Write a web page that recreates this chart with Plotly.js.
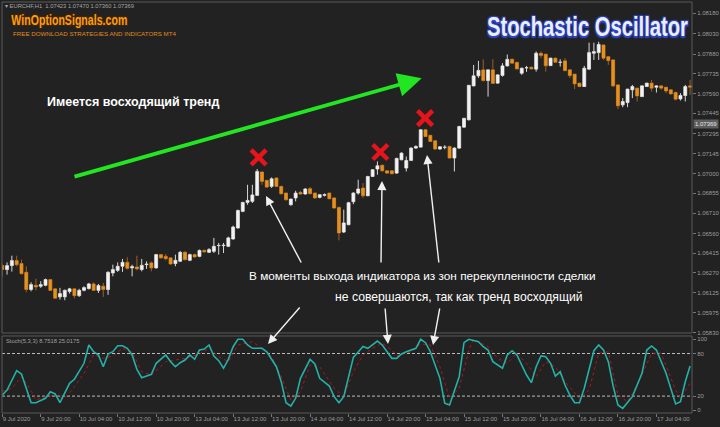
<!DOCTYPE html>
<html><head><meta charset="utf-8">
<script src="https://cdn.plot.ly/plotly-3.0.1.min.js"></script>
<style>html,body{margin:0;padding:0;background:#222222;} #chart{width:720px;height:427px;}</style>
</head><body><div id="chart"></div>
<script>
// ---- hourly EURCHF candles, bar index 0 = 9 Jul 2020 12:00 ----
const barOpen = [1.06323,1.06294,1.06323,1.06360,1.06338,1.06274,1.06147,1.06178,1.06171,1.06178,
1.06220,1.06152,1.06093,1.06093,1.06132,1.06152,1.06102,1.06141,1.06154,1.06188,
1.06141,1.06171,1.06147,1.06269,1.06288,1.06318,1.06347,1.06306,1.06313,1.06294,
1.06330,1.06343,1.06306,1.06404,1.06391,1.06380,1.06338,1.06355,1.06421,1.06362,
1.06404,1.06391,1.06435,1.06421,1.06428,1.06470,1.06470,1.06465,1.06519,1.06600,
1.06722,1.06788,1.06796,1.06840,1.07012,1.06950,1.06906,1.06968,1.06906,1.06857,
1.06771,1.06821,1.06862,1.06850,1.06889,1.06857,1.06825,1.06840,1.06857,1.06821,
1.06751,1.06570,1.06624,1.06793,1.06857,1.06894,1.06837,1.06979,1.07034,1.07062,
1.07021,1.07021,1.07004,1.07102,1.07041,1.07097,1.07188,1.07195,1.07323,1.07282,
1.07242,1.07181,1.07194,1.07200,1.07115,1.07188,1.07342,1.07396,1.07646,1.07720,
1.07764,1.07685,1.07764,1.07666,1.07723,1.07793,1.07842,1.07819,1.07739,1.07778,
1.07783,1.07769,1.07886,1.07879,1.07795,1.07850,1.07819,1.07830,1.07764,1.07732,
1.07666,1.07641,1.07769,1.07886,1.07891,1.07947,1.07861,1.07837,1.07653,1.07506,
1.07523,1.07617,1.07629,1.07567,1.07641,1.07666,1.07636,1.07646,1.07636,1.07617,
1.07597,1.07550,1.07575,1.07646];
const barHigh = [1.06338,1.06347,1.06396,1.06396,1.06367,1.06318,1.06200,1.06227,1.06208,1.06227,
1.06224,1.06159,1.06159,1.06147,1.06159,1.06159,1.06152,1.06171,1.06196,1.06200,
1.06188,1.06196,1.06281,1.06330,1.06347,1.06372,1.06384,1.06330,1.06396,1.06372,
1.06354,1.06354,1.06409,1.06406,1.06409,1.06384,1.06404,1.06430,1.06430,1.06411,
1.06411,1.06441,1.06441,1.06452,1.06527,1.06490,1.06490,1.06536,1.06617,1.06735,
1.06793,1.06918,1.06918,1.07034,1.07016,1.06955,1.06972,1.06970,1.06911,1.06859,
1.06815,1.06874,1.06874,1.06893,1.06901,1.06859,1.06848,1.06854,1.06859,1.06823,
1.06759,1.06735,1.06793,1.06863,1.06955,1.06931,1.06984,1.07032,1.07090,1.07065,
1.07025,1.07025,1.07117,1.07157,1.07126,1.07194,1.07209,1.07326,1.07326,1.07286,
1.07245,1.07201,1.07209,1.07205,1.07194,1.07352,1.07411,1.07653,1.07800,1.07830,
1.07841,1.07767,1.07842,1.07730,1.07813,1.07877,1.07846,1.07822,1.07780,1.07793,
1.07787,1.07899,1.07899,1.07881,1.07853,1.07853,1.07842,1.07850,1.07767,1.07734,
1.07668,1.07793,1.07964,1.07964,1.07971,1.07951,1.07865,1.07841,1.07657,1.07556,
1.07625,1.07653,1.07631,1.07650,1.07669,1.07690,1.07650,1.07653,1.07639,1.07620,
1.07604,1.07592,1.07653,1.07690];
const barLow = [1.06242,1.06257,1.06279,1.06318,1.06257,1.06127,1.06134,1.06141,1.06159,1.06171,
1.06137,1.06078,1.06073,1.06068,1.06117,1.06083,1.06093,1.06134,1.06147,1.06137,
1.06122,1.06093,1.06108,1.06244,1.06277,1.06277,1.06294,1.06244,1.06288,1.06281,
1.06299,1.06281,1.06301,1.06374,1.06362,1.06330,1.06318,1.06349,1.06360,1.06356,
1.06382,1.06385,1.06420,1.06415,1.06416,1.06404,1.06416,1.06459,1.06514,1.06595,
1.06716,1.06771,1.06784,1.06837,1.06918,1.06896,1.06894,1.06900,1.06845,1.06801,
1.06764,1.06796,1.06845,1.06845,1.06850,1.06815,1.06819,1.06832,1.06812,1.06742,
1.06509,1.06563,1.06620,1.06775,1.06845,1.06821,1.06834,1.06977,1.06992,1.07014,
1.06999,1.06996,1.06999,1.07098,1.07016,1.07095,1.07183,1.07194,1.07271,1.07234,
1.07176,1.07176,1.07179,1.07110,1.07016,1.07183,1.07337,1.07392,1.07642,1.07705,
1.07678,1.07567,1.07661,1.07661,1.07714,1.07789,1.07808,1.07767,1.07727,1.07749,
1.07767,1.07751,1.07850,1.07751,1.07793,1.07815,1.07788,1.07756,1.07703,1.07622,
1.07636,1.07639,1.07764,1.07837,1.07837,1.07837,1.07800,1.07636,1.07475,1.07489,
1.07489,1.07556,1.07531,1.07565,1.07639,1.07604,1.07597,1.07617,1.07592,1.07583,
1.07538,1.07538,1.07531,1.07580];
const barClose = [1.06294,1.06323,1.06360,1.06330,1.06264,1.06147,1.06183,1.06166,1.06183,1.06220,
1.06141,1.06083,1.06117,1.06141,1.06152,1.06102,1.06141,1.06161,1.06188,1.06141,
1.06176,1.06147,1.06274,1.06294,1.06318,1.06347,1.06303,1.06316,1.06299,1.06325,
1.06335,1.06306,1.06404,1.06380,1.06374,1.06335,1.06362,1.06421,1.06367,1.06404,
1.06387,1.06435,1.06424,1.06441,1.06465,1.06472,1.06474,1.06527,1.06607,1.06729,
1.06788,1.06803,1.06843,1.07016,1.06943,1.06901,1.06962,1.06906,1.06852,1.06808,
1.06813,1.06857,1.06850,1.06887,1.06852,1.06821,1.06845,1.06846,1.06815,1.06747,
1.06563,1.06637,1.06786,1.06857,1.06887,1.06837,1.06979,1.07029,1.07058,1.07021,
1.07004,1.06999,1.07112,1.07151,1.07097,1.07188,1.07200,1.07323,1.07273,1.07237,
1.07181,1.07198,1.07196,1.07115,1.07188,1.07347,1.07407,1.07650,1.07720,1.07760,
1.07685,1.07764,1.07664,1.07727,1.07793,1.07841,1.07813,1.07771,1.07776,1.07780,
1.07771,1.07886,1.07870,1.07794,1.07850,1.07820,1.07821,1.07758,1.07722,1.07661,
1.07641,1.07776,1.07891,1.07898,1.07951,1.07850,1.07832,1.07646,1.07499,1.07531,
1.07622,1.07641,1.07572,1.07646,1.07666,1.07629,1.07646,1.07629,1.07609,1.07587,
1.07548,1.07575,1.07641,1.07636];

// ---- time axis labels (bar index -> label) ----
const dateTickBars = [0,8,16,24,32,40,48,56,64,72,80,88,96,104,112,120,128,136];
const dateTickLabels = ['9 Jul 2020','9 Jul 20:00','10 Jul 04:00','10 Jul 12:00','10 Jul 20:00','13 Jul 04:00',
 '13 Jul 12:00','13 Jul 20:00','14 Jul 04:00','14 Jul 12:00','14 Jul 20:00','15 Jul 04:00','15 Jul 12:00',
 '15 Jul 20:00','16 Jul 04:00','16 Jul 12:00','16 Jul 20:00','17 Jul 04:00'];

// ---- price scale labels ----
const priceTicks = [1.08180,1.08030,1.07880,1.07735,1.07590,1.07445,1.07295,1.07145,1.07000,
 1.06855,1.06710,1.06560,1.06415,1.06270,1.06125,1.05975,1.05830];
const lastPrice = 1.07369;

// ---- Stochastic (5,3,3): [bar index, value] ----
const stochMain = [[0,21.5],[1,28.6],[3,55.8],[4,51],[6,10.7],[7,10.7],[9,16.9],[10,26.2],[11,23],[12,10.7],
 [14,38],[15,43.7],[17,66.2],[18,92],[19,82.5],[20,77.9],[21,61.4],[22,79.3],[23,82.5],[24,91],[25,91],
 [26,87.3],[27,77.9],[28,57.7],[29,45.9],[31,50.7],[32,66.2],[34,77.9],[35,68.5],[36,61.4],[37,67],
 [38,70.8],[39,77.9],[40,71.8],[41,84.9],[42,86.3],[43,92],[44,76.5],[45,69.9],[46,59.2],[47,71.8],
 [48,89.6],[49,100],[50,100],[51,92],[52,87.3],[54,87.3],[55,82.5],[57,61.4],[58,40.3],[59,10.7],
 [60,6],[61,16.9],[62,45],[64,71.8],[65,65.2],[66,45],[68,34.2],[69,19.2],[70,10.7],[71,19.2],
 [72,47.3],[73,74.6],[74,82],[75,90],[76,87.3],[78,97.6],[79,92],[81,73.2],[82,73.2],[83,79.3],
 [84,82.5],[86,87.3],[87,100],[88,95.2],[89,82.5],[91,45],[92,9.9],[93,7.5],[95,47.3],[96,95.2],
 [97,100],[99,96.6],[100,89.6],[101,84.9],[102,68.5],[104,59.2],[105,77.9],[106,83.9],[107,77.9],
 [109,49.7],[110,38.9],[111,61.4],[112,76.5],[113,75.5],[114,66.2],[115,48.3],[116,54.4],[117,35.6],
 [118,21.5],[119,10.7],[120,10.7],[121,31],[123,83.9],[124,92],[125,84.9],[126,68.5],[127,34.2],
 [128,7.5],[129,2.8],[131,19.2],[133,52.1],[134,84.9],[135,90.6],[136,84.9],[138,52.1],[140,8.9],
 [141,12.1],[142,40.3],[143,62.4]];
const stochSignal = [[0,27],[2,31],[4,47.3],[6,28],[7,14.5],[9,19.2],[11,21.5],[13,16.9],[15,33.2],[17,52.1],
 [19,77.9],[21,73.2],[23,76.5],[25,87.3],[27,82.5],[29,54.4],[31,49.7],[34,68.5],[36,70.8],[38,73.2],
 [41,79.3],[43,87.3],[45,75.5],[47,68.5],[49,92],[52,96.6],[54,87.3],[56,75.5],[58,47.3],[60,14.5],
 [62,26.2],[64,63.8],[66,61.4],[69,31],[71,19.2],[73,54.4],[75,77.9],[77,87.3],[79,94.4],[81,84.9],
 [82,76.5],[85,82.5],[87,93.4],[89,92],[91,61.4],[93,16.9],[95,31],[97,84.9],[98,100],[101,89.6],
 [103,73.2],[105,66.2],[107,80.3],[109,66.2],[111,47.3],[113,68.5],[115,61.4],[117,40.3],[120,16.9],
 [122,28.6],[124,80.3],[126,82.5],[128,21.5],[130,12.1],[132,35.6],[135,80.3],[137,80.3],[140,28.6],
 [141,16.9],[143,38]];
const stochLevels = [20, 80];
const stochTicks = [0, 20, 80, 100];

// ---- red crosses over the price (bar index, price) ----
const crossBars = [53.3, 78.6, 87.9];
const crossPrices = [1.07120, 1.07159, 1.07409];

// ---------------- build traces ----------------
const idx = barOpen.map((_, i) => i);
const isBull = i => barClose[i] >= barOpen[i];
function bodies(sel, color) {
  return {type:'bar', x: sel, base: sel.map(i => Math.min(barOpen[i], barClose[i])),
    y: sel.map(i => Math.abs(barClose[i] - barOpen[i])), width: 0.62,
    marker:{color: color, line:{color: color, width: 0.7}}, xaxis:'x', yaxis:'y', hoverinfo:'skip'};
}
function wicks(sel, color) {
  const xs = [], ys = [];
  sel.forEach(i => {
    const top = Math.max(barOpen[i], barClose[i]), bot = Math.min(barOpen[i], barClose[i]);
    xs.push(i, i, null, i, i, null);
    ys.push(barHigh[i], top, null, bot, barLow[i], null);
  });
  return {type:'scatter', mode:'lines', x: xs, y: ys, line:{color: color, width: 1},
    xaxis:'x', yaxis:'y', hoverinfo:'skip', connectgaps:false};
}
const bullIdx = idx.filter(isBull), bearIdx = idx.filter(i => !isBull(i));

const traces = [
  bodies(bullIdx, '#f2f2f2'),
  bodies(bearIdx, '#e8901e'),
  wicks(bullIdx, '#d8d8d8'),
  wicks(bearIdx, '#9a6222'),
  {type:'scatter', mode:'lines', x: stochSignal.map(p => p[0]), y: stochSignal.map(p => p[1]),
   line:{color:'#b3141a', width:1, dash:'dot'}, xaxis:'x', yaxis:'y2', hoverinfo:'skip'},
  {type:'scatter', mode:'lines', x: stochMain.map(p => p[0]), y: stochMain.map(p => p[1]),
   line:{color:'#22b2a8', width:1.6}, xaxis:'x', yaxis:'y2', hoverinfo:'skip'},
  {type:'scatter', mode:'markers', x: crossBars, y: crossPrices, xaxis:'x', yaxis:'y',
   marker:{symbol:'x-thin', size:15, color:'#e8141c', line:{color:'#e8141c', width:4.5}}, hoverinfo:'skip'}
];

// ---------------- layout ----------------
const axisFont = {family:'Liberation Sans, Arial, sans-serif', size:6, color:'#9c9c9c'};
const frame = '#5a5a5a';
const px = x => (x - 2) / 690;          // helper: page pixel -> paper x
const py = y => (413 - y) / 411;        // helper: page pixel -> paper y

const whiteArrow = (hx, hy, tx, ty) => ({xref:'paper', yref:'paper', x: px(hx), y: py(hy),
  ax: tx - hx, ay: ty - hy, axref:'pixel', ayref:'pixel', text:'', showarrow:true,
  arrowhead:2, arrowsize:1.3, arrowwidth:1.4, arrowcolor:'#f0f0f0'});

const TITLE = 'Stochastic Oscillator', LOGO = 'WinOptionSignals.com';

const layout = {
  width:720, height:427,
  paper_bgcolor:'#222222', plot_bgcolor:'#222222',
  margin:{l:2, r:28, t:2, b:14},
  showlegend:false, hovermode:false, barmode:'overlay', bargap:0,
  font:{family:'Liberation Sans, Arial, sans-serif'},
  xaxis:{range:[-0.05, 143.4], anchor:'y2', showgrid:false, zeroline:false,
    tickmode:'array', tickvals:dateTickBars, ticktext:dateTickLabels, tickangle:0,
    ticklabelposition:'outside right', ticks:'outside', ticklen:3, tickcolor:'#777',
    tickfont:axisFont, showline:false, rangeslider:{visible:false}, fixedrange:true},
  yaxis:{domain:[0.19465, 1], range:[1.05827, 1.082633], side:'right', showgrid:false, zeroline:false,
    tickmode:'array', tickvals:priceTicks, ticktext:priceTicks.map(v => v.toFixed(5)),
    ticks:'outside', ticklen:3, tickcolor:'#777', tickfont:axisFont, showline:false, fixedrange:true},
  yaxis2:{domain:[0, 0.18735], range:[-3.8, 104.65], side:'right', showgrid:false, zeroline:false,
    tickmode:'array', tickvals:stochTicks, ticktext:stochTicks.map(String),
    ticks:'outside', ticklen:3, tickcolor:'#777', tickfont:axisFont, showline:false, fixedrange:true},
  shapes:[
    {type:'rect', xref:'paper', yref:'y domain', x0:0, x1:1, y0:0, y1:1, line:{color:frame, width:1}},
    {type:'rect', xref:'paper', yref:'y2 domain', x0:0, x1:1, y0:0, y1:1, line:{color:frame, width:1}},
    ...stochLevels.map(v => ({type:'line', xref:'paper', yref:'y2', x0:0, x1:1, y0:v, y1:v,
      line:{color:'#bdbdbd', width:1, dash:'3px,2px'}, layer:'below'}))
  ],
  annotations:[
    {xref:'paper', yref:'paper', x:px(3), y:py(6), xanchor:'left', yanchor:'middle', showarrow:false,
     text:'▾ EURCHF,H1  1.07423 1.07470 1.07360 1.07369', font:{size:5.8, color:'#a6a6a6'}},
    {xref:'paper', yref:'paper', x:px(69), y:py(20), xanchor:'center', yanchor:'middle', showarrow:false,
     text:LOGO,
     font:{family:'Liberation Sans, Arial, sans-serif', size:12.5, weight:700,
       color:'#f5a01c', shadow:'1px 1px 0 #4a2300, -1px -1px 0 #4a2300, 1px -1px 0 #4a2300, -1px 1px 0 #4a2300'}},
    {xref:'paper', yref:'paper', x:px(11), y:py(33), xanchor:'left', yanchor:'middle', showarrow:false,
     text:'FREE DOWNLOAD STRATEGIES AND INDICATORS MT4', font:{size:6.2, color:'#e08a1c'}},
    {xref:'paper', yref:'paper', x:px(587.5), y:py(26), xanchor:'center', yanchor:'middle', showarrow:false,
     text:TITLE,
     font:{family:'Liberation Sans, Arial, sans-serif', size:21, weight:700,
       color:'#eceeff', shadow:'1px 1px 1px #2d46c8, -1px -1px 1px #2d46c8, 1px -1px 1px #2d46c8, -1px 1px 1px #2d46c8'}},
    {xref:'paper', yref:'paper', x:px(45), y:py(102), xanchor:'left', yanchor:'middle', showarrow:false,
     text:'Имеется восходящий тренд', font:{size:12.5, color:'#ffffff', weight:600}},
    {xref:'paper', yref:'paper', x:px(247), y:py(276), xanchor:'left', yanchor:'middle', showarrow:false,
     text:'В моменты выхода индикатора из зон перекупленности сделки', font:{size:11.8, color:'#ffffff'}},
    {xref:'paper', yref:'paper', x:px(585), y:py(297), xanchor:'right', yanchor:'middle', showarrow:false,
     text:'не совершаются, так как тренд восходящий', font:{size:12.2, color:'#ffffff'}},
    {xref:'paper', yref:'paper', x:px(4), y:py(341), xanchor:'left', yanchor:'middle', showarrow:false,
     text:'Stoch(5,3,3) 8.7518 25.0175', font:{size:5.8, color:'#a0a0a0'}},
    {xref:'paper', yref:'y', x:1, y:lastPrice, xanchor:'left', yanchor:'middle', xshift:1, showarrow:false,
     text:lastPrice.toFixed(5), bgcolor:'#5e5e5e', borderpad:1, font:{size:6, color:'#e6e6e6'}},
    {xref:'paper', yref:'paper', x:px(421.7), y:py(78.3), ax:73 - 421.7, ay:177 - 78.3, axref:'pixel', ayref:'pixel',
     text:'', showarrow:true, arrowhead:2, arrowsize:1.25, arrowwidth:3.8, arrowcolor:'#22e622'},
    whiteArrow(266, 196, 302, 264),
    whiteArrow(382, 181, 381, 264),
    whiteArrow(427, 155, 439, 264),
    whiteArrow(268, 344, 301, 306),
    whiteArrow(388, 344, 385, 307),
    whiteArrow(433, 345, 440, 307)
  ]
};

// condensed display fonts: real text, narrowed to its reference width and stretched to its reference height
const display = {};
display[TITLE] = {w:201, s:1.33};
display[LOGO] = {w:116, s:1.22};

Plotly.newPlot('chart', traces, layout, {staticPlot:true, displayModeBar:false}).then(gd => {
  gd.querySelectorAll('text.annotation-text').forEach(t => {
    const d = display[t.textContent];
    if (!d) return;
    t.setAttribute('textLength', d.w);
    t.setAttribute('lengthAdjust', 'spacingAndGlyphs');
    const bb = t.getBBox();
    const cy = bb.y + bb.height / 2;
    const prev = t.getAttribute('transform') || '';
    t.setAttribute('transform', prev + ' translate(0 ' + (cy * (1 - d.s)) + ') scale(1 ' + d.s + ')');
  });
});
</script>
</body></html>
